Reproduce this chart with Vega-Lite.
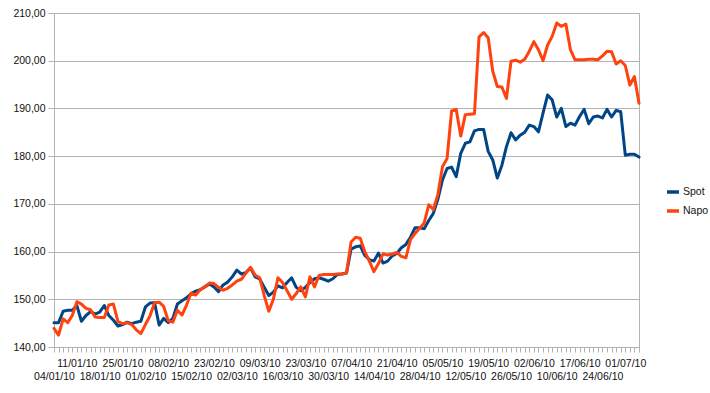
{
  "$schema": "https://vega.github.io/schema/vega-lite/v6.json",
  "width": 585,
  "height": 334,
  "autosize": {"type": "none"},
  "padding": {"left": 54, "top": 13, "right": 71, "bottom": 46},
  "background": "white",
  "config": {
    "font": "Liberation Sans",
    "view": {"stroke": "#b3b3b3", "strokeWidth": 1},
    "axis": {
      "gridColor": "#b3b3b3",
      "domainColor": "#b3b3b3",
      "tickColor": "#b3b3b3",
      "labelColor": "#111111",
      "labelFont": "Liberation Sans",
      "labelFontSize": 10.5
    }
  },
  "data": {
    "values": [
      {"d": "04/01/10", "Spot": 145.1, "Napo": 143.9},
      {"d": "05/01/10", "Spot": 145.1, "Napo": 142.5},
      {"d": "06/01/10", "Spot": 147.5, "Napo": 145.9},
      {"d": "07/01/10", "Spot": 147.7, "Napo": 145.1},
      {"d": "08/01/10", "Spot": 147.7, "Napo": 146.6},
      {"d": "11/01/10", "Spot": 148.7, "Napo": 149.5},
      {"d": "12/01/10", "Spot": 145.4, "Napo": 149.0},
      {"d": "13/01/10", "Spot": 146.6, "Napo": 148.1},
      {"d": "14/01/10", "Spot": 147.4, "Napo": 147.8},
      {"d": "15/01/10", "Spot": 146.9, "Napo": 146.3},
      {"d": "18/01/10", "Spot": 147.3, "Napo": 146.2},
      {"d": "19/01/10", "Spot": 148.7, "Napo": 146.2},
      {"d": "20/01/10", "Spot": 146.6, "Napo": 148.8},
      {"d": "21/01/10", "Spot": 145.6, "Napo": 149.0},
      {"d": "22/01/10", "Spot": 144.4, "Napo": 145.3},
      {"d": "25/01/10", "Spot": 144.7, "Napo": 144.9},
      {"d": "26/01/10", "Spot": 145.2, "Napo": 145.1},
      {"d": "27/01/10", "Spot": 144.9, "Napo": 144.7},
      {"d": "28/01/10", "Spot": 145.2, "Napo": 143.6},
      {"d": "29/01/10", "Spot": 145.4, "Napo": 142.8},
      {"d": "01/02/10", "Spot": 148.4, "Napo": 144.7},
      {"d": "02/02/10", "Spot": 149.2, "Napo": 146.5},
      {"d": "03/02/10", "Spot": 149.3, "Napo": 149.3},
      {"d": "04/02/10", "Spot": 144.6, "Napo": 149.4},
      {"d": "05/02/10", "Spot": 146.0, "Napo": 148.5},
      {"d": "08/02/10", "Spot": 145.1, "Napo": 145.5},
      {"d": "09/02/10", "Spot": 146.0, "Napo": 145.2},
      {"d": "10/02/10", "Spot": 149.0, "Napo": 147.7},
      {"d": "11/02/10", "Spot": 149.7, "Napo": 146.7},
      {"d": "12/02/10", "Spot": 150.3, "Napo": 148.8},
      {"d": "15/02/10", "Spot": 151.2, "Napo": 151.3},
      {"d": "17/02/10", "Spot": 151.7, "Napo": 150.9},
      {"d": "18/02/10", "Spot": 152.0, "Napo": 152.0},
      {"d": "19/02/10", "Spot": 152.6, "Napo": 152.6},
      {"d": "22/02/10", "Spot": 153.2, "Napo": 153.4},
      {"d": "23/02/10", "Spot": 152.6, "Napo": 153.3},
      {"d": "24/02/10", "Spot": 151.6, "Napo": 152.5},
      {"d": "25/02/10", "Spot": 153.0, "Napo": 151.9},
      {"d": "26/02/10", "Spot": 153.6, "Napo": 152.3},
      {"d": "01/03/10", "Spot": 154.7, "Napo": 153.0},
      {"d": "02/03/10", "Spot": 156.1, "Napo": 153.8},
      {"d": "03/03/10", "Spot": 155.3, "Napo": 154.2},
      {"d": "04/03/10", "Spot": 155.6, "Napo": 155.5},
      {"d": "05/03/10", "Spot": 156.6, "Napo": 156.7},
      {"d": "08/03/10", "Spot": 154.7, "Napo": 155.1},
      {"d": "09/03/10", "Spot": 154.3, "Napo": 154.5},
      {"d": "10/03/10", "Spot": 152.5, "Napo": 150.8},
      {"d": "11/03/10", "Spot": 150.8, "Napo": 147.5},
      {"d": "12/03/10", "Spot": 151.5, "Napo": 150.0},
      {"d": "15/03/10", "Spot": 152.8, "Napo": 154.5},
      {"d": "16/03/10", "Spot": 152.4, "Napo": 153.5},
      {"d": "17/03/10", "Spot": 153.5, "Napo": 151.8},
      {"d": "18/03/10", "Spot": 154.5, "Napo": 150.0},
      {"d": "19/03/10", "Spot": 152.5, "Napo": 151.2},
      {"d": "22/03/10", "Spot": 151.8, "Napo": 152.6},
      {"d": "23/03/10", "Spot": 152.5, "Napo": 150.5},
      {"d": "24/03/10", "Spot": 153.5, "Napo": 154.7},
      {"d": "25/03/10", "Spot": 154.3, "Napo": 152.6},
      {"d": "26/03/10", "Spot": 154.5, "Napo": 155.0},
      {"d": "29/03/10", "Spot": 154.2, "Napo": 155.2},
      {"d": "30/03/10", "Spot": 153.8, "Napo": 155.2},
      {"d": "31/03/10", "Spot": 154.3, "Napo": 155.2},
      {"d": "01/04/10", "Spot": 155.2, "Napo": 155.3},
      {"d": "05/04/10", "Spot": 155.3, "Napo": 155.3},
      {"d": "06/04/10", "Spot": 155.5, "Napo": 155.5},
      {"d": "07/04/10", "Spot": 160.5, "Napo": 162.0},
      {"d": "08/04/10", "Spot": 161.0, "Napo": 163.0},
      {"d": "09/04/10", "Spot": 161.2, "Napo": 162.8},
      {"d": "12/04/10", "Spot": 159.2, "Napo": 160.0},
      {"d": "13/04/10", "Spot": 158.3, "Napo": 158.0},
      {"d": "14/04/10", "Spot": 158.0, "Napo": 155.8},
      {"d": "15/04/10", "Spot": 159.7, "Napo": 157.5},
      {"d": "16/04/10", "Spot": 157.6, "Napo": 159.5},
      {"d": "19/04/10", "Spot": 158.0, "Napo": 159.3},
      {"d": "20/04/10", "Spot": 159.1, "Napo": 159.5},
      {"d": "21/04/10", "Spot": 159.6, "Napo": 159.8},
      {"d": "22/04/10", "Spot": 160.8, "Napo": 159.0},
      {"d": "23/04/10", "Spot": 161.5, "Napo": 158.7},
      {"d": "26/04/10", "Spot": 163.0, "Napo": 162.5},
      {"d": "27/04/10", "Spot": 165.0, "Napo": 163.8},
      {"d": "28/04/10", "Spot": 165.0, "Napo": 164.9},
      {"d": "29/04/10", "Spot": 164.8, "Napo": 166.0},
      {"d": "30/04/10", "Spot": 166.5, "Napo": 169.8},
      {"d": "03/05/10", "Spot": 168.0, "Napo": 168.8},
      {"d": "04/05/10", "Spot": 171.0, "Napo": 172.0},
      {"d": "05/05/10", "Spot": 175.0, "Napo": 177.8},
      {"d": "06/05/10", "Spot": 177.4, "Napo": 179.5},
      {"d": "07/05/10", "Spot": 177.7, "Napo": 189.5},
      {"d": "10/05/10", "Spot": 175.7, "Napo": 189.8},
      {"d": "11/05/10", "Spot": 180.6, "Napo": 184.2},
      {"d": "12/05/10", "Spot": 182.7, "Napo": 188.7},
      {"d": "13/05/10", "Spot": 183.0, "Napo": 188.8},
      {"d": "14/05/10", "Spot": 185.3, "Napo": 188.9},
      {"d": "17/05/10", "Spot": 185.6, "Napo": 205.0},
      {"d": "18/05/10", "Spot": 185.6, "Napo": 205.9},
      {"d": "19/05/10", "Spot": 181.0, "Napo": 204.8},
      {"d": "20/05/10", "Spot": 179.2, "Napo": 197.8},
      {"d": "21/05/10", "Spot": 175.4, "Napo": 194.6},
      {"d": "24/05/10", "Spot": 178.1, "Napo": 194.5},
      {"d": "25/05/10", "Spot": 182.0, "Napo": 192.1},
      {"d": "26/05/10", "Spot": 184.9, "Napo": 199.9},
      {"d": "27/05/10", "Spot": 183.4, "Napo": 200.1},
      {"d": "28/05/10", "Spot": 184.4, "Napo": 199.7},
      {"d": "31/05/10", "Spot": 185.0, "Napo": 200.3},
      {"d": "01/06/10", "Spot": 186.5, "Napo": 202.0},
      {"d": "02/06/10", "Spot": 186.2, "Napo": 204.0},
      {"d": "04/06/10", "Spot": 185.1, "Napo": 202.3},
      {"d": "07/06/10", "Spot": 189.0, "Napo": 200.0},
      {"d": "08/06/10", "Spot": 192.8, "Napo": 203.3},
      {"d": "09/06/10", "Spot": 191.8, "Napo": 205.1},
      {"d": "10/06/10", "Spot": 188.2, "Napo": 207.9},
      {"d": "11/06/10", "Spot": 190.0, "Napo": 207.2},
      {"d": "14/06/10", "Spot": 186.2, "Napo": 207.7},
      {"d": "15/06/10", "Spot": 186.9, "Napo": 202.3},
      {"d": "16/06/10", "Spot": 186.5, "Napo": 200.2},
      {"d": "17/06/10", "Spot": 188.3, "Napo": 200.2},
      {"d": "18/06/10", "Spot": 189.8, "Napo": 200.2},
      {"d": "21/06/10", "Spot": 186.8, "Napo": 200.3},
      {"d": "22/06/10", "Spot": 188.2, "Napo": 200.3},
      {"d": "23/06/10", "Spot": 188.4, "Napo": 200.2},
      {"d": "24/06/10", "Spot": 188.0, "Napo": 201.0},
      {"d": "25/06/10", "Spot": 189.8, "Napo": 202.0},
      {"d": "28/06/10", "Spot": 188.2, "Napo": 201.9},
      {"d": "29/06/10", "Spot": 189.6, "Napo": 199.3},
      {"d": "30/06/10", "Spot": 189.3, "Napo": 200.0},
      {"d": "01/07/10", "Spot": 180.2, "Napo": 199.0},
      {"d": "02/07/10", "Spot": 180.4, "Napo": 194.9},
      {"d": "05/07/10", "Spot": 180.4, "Napo": 196.7},
      {"d": "06/07/10", "Spot": 179.8, "Napo": 191.1}
    ]
  },
  "transform": [{"fold": ["Spot", "Napo"], "as": ["series", "value"]}],
  "mark": {"type": "line", "strokeWidth": 3, "strokeJoin": "round", "strokeCap": "round"},
  "encoding": {
    "x": {
      "field": "d",
      "type": "ordinal",
      "sort": null,
      "scale": {"type": "point", "padding": 0},
      "axis": {
        "title": null,
        "grid": false,
        "tickSize": 5,
        "labelAngle": 0,
        "labelOverlap": false,
        "labelExpr": "indexof(['04/01/10','11/01/10','18/01/10','25/01/10','01/02/10','08/02/10','15/02/10','23/02/10','02/03/10','09/03/10','16/03/10','23/03/10','30/03/10','07/04/10','14/04/10','21/04/10','28/04/10','05/05/10','12/05/10','19/05/10','26/05/10','02/06/10','10/06/10','17/06/10','24/06/10','01/07/10'], datum.value) >= 0 ? datum.value : ''",
        "labelPadding": {
          "condition": {
            "test": "indexof(['04/01/10','11/01/10','18/01/10','25/01/10','01/02/10','08/02/10','15/02/10','23/02/10','02/03/10','09/03/10','16/03/10','23/03/10','30/03/10','07/04/10','14/04/10','21/04/10','28/04/10','05/05/10','12/05/10','19/05/10','26/05/10','02/06/10','10/06/10','17/06/10','24/06/10','01/07/10'], datum.value) % 2 == 0",
            "value": 19
          },
          "value": 6
        }
      }
    },
    "y": {
      "field": "value",
      "type": "quantitative",
      "scale": {"domain": [140, 210], "nice": false, "zero": false},
      "axis": {
        "title": null,
        "values": [140, 150, 160, 170, 180, 190, 200, 210],
        "tickSize": 6,
        "labelPadding": 3,
        "labelExpr": "replace(format(datum.value, '.2f'), '.', ',')"
      }
    },
    "color": {
      "field": "series",
      "type": "nominal",
      "scale": {"domain": ["Spot", "Napo"], "range": ["#004586", "#ff420e"]},
      "legend": {
        "title": null,
        "orient": "none",
        "legendX": 611,
        "legendY": 171,
        "symbolType": "stroke",
        "symbolSize": 144,
        "symbolStrokeWidth": 3.5,
        "labelFontSize": 10.5,
        "labelColor": "#111111",
        "labelOffset": 2,
        "rowPadding": 4
      }
    }
  }
}
